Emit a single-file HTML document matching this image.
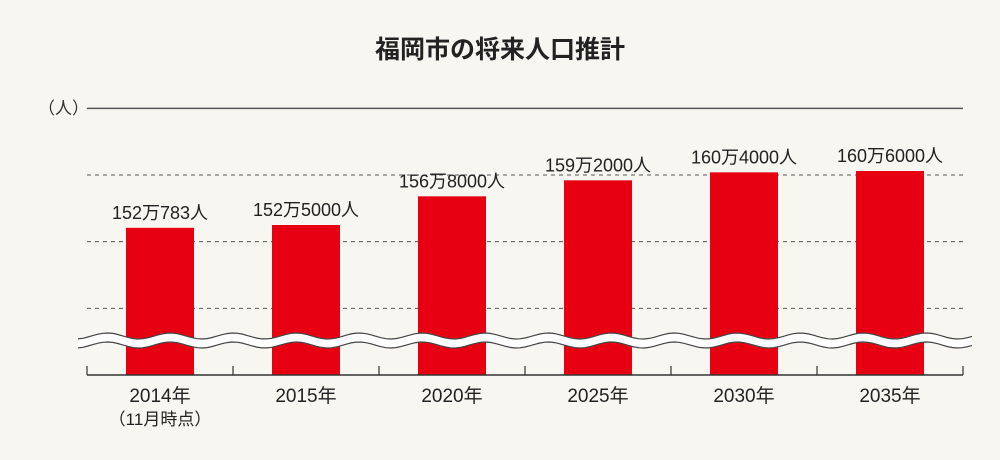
<!DOCTYPE html>
<html><head><meta charset="utf-8">
<style>
html,body{margin:0;padding:0;background:#f8f6f1;}
svg{display:block;font-family:"Liberation Sans","Noto Sans CJK JP",sans-serif;}
</style></head>
<body>
<svg id="chart" width="1000" height="460" viewBox="0 0 1000 460" xmlns="http://www.w3.org/2000/svg">
<rect width="1000" height="460" fill="#f8f6f1"/>
<text x="500" y="58" text-anchor="middle" font-size="25" font-weight="bold" fill="#222">福岡市の将来人口推計</text>
<text x="38" y="114" font-size="17" fill="#333">（人）</text>
<g id="grid"></g>
<g id="bars"></g>
<g id="wave"></g>
<g id="axis"></g>
</svg>
<script>
const categories = ["2014年","2015年","2020年","2025年","2030年","2035年"];
const values = [152.0783,152.5,156.8,159.2,160.4,160.6];
const valueLabels = ["152万783人","152万5000人","156万8000人","159万2000人","160万4000人","160万6000人"];
const gridValues = [170,160,150,140];
const NS="http://www.w3.org/2000/svg";
const svg=document.getElementById('chart');
function yScale(v){return 175-(v-160)*6.667;}
const x0=87,x1=963,step=(x1-x0)/categories.length,base=375;
function xCenter(i){return x0+step*(i+0.5);}
function mk(tag,attrs,parent){const e=document.createElementNS(NS,tag);for(const k in attrs)e.setAttribute(k,attrs[k]);parent.appendChild(e);return e;}
const grid=document.getElementById('grid');
gridValues.forEach((g,i)=>{
  const y=yScale(g);
  const l=mk('line',{x1:x0,x2:x1,y1:y,y2:y,stroke:i===0?'#555':'#555','stroke-width':i===0?1.5:1,'stroke-dasharray':i===0?'none':'4 4'},grid);
  
  
});
const bars=document.getElementById('bars');
values.forEach((v,i)=>{
  const cx=xCenter(i),y=yScale(v);
  const r=mk('rect',{x:cx-34,y:y,width:68,height:base-y,fill:'#e60012'},bars);
  
  
  const t=mk('text',{x:cx,y:y-9,'text-anchor':'middle','font-size':18,fill:'#222'},bars);
  t.textContent=valueLabels[i];
  
  
});
// wave break
const wave=document.getElementById('wave');
function curve(yc,rev){let pts=[];const N=180;for(let k=0;k<=N;k++){const x=78+k*(894/N);pts.push([x,yc+3*Math.sin((x-60)*2*Math.PI/63)]);}if(rev)pts.reverse();return pts;}
const up=curve(336,false),lo=curve(345,true);
const band=mk('path',{d:'M'+up.concat(lo).map(p=>p[0].toFixed(1)+','+p[1].toFixed(1)).join(' L')+' Z',fill:'#fff',stroke:'none'},wave);


[up,lo].forEach((c,j)=>{
  const p=mk('path',{d:'M'+c.map(p=>p[0].toFixed(1)+','+p[1].toFixed(1)).join(' L'),fill:'none',stroke:'#444','stroke-width':1.2},wave);
  
  
});
const axis=document.getElementById('axis');
const bl=mk('line',{x1:x0,x2:x1,y1:base,y2:base,stroke:'#333','stroke-width':1.5},axis);


for(let i=0;i<=categories.length;i++){
  const x=x0+step*i;
  const tk=mk('line',{x1:x,x2:x,y1:base-9,y2:base,stroke:'#333','stroke-width':1.2},axis);
  
  
}
categories.forEach((c,i)=>{
  const t=mk('text',{x:xCenter(i),y:402,'text-anchor':'middle','font-size':19,fill:'#222'},axis);
  t.textContent=c;
  
  
});
const note=mk('text',{x:xCenter(0),y:425,'text-anchor':'middle','font-size':17,fill:'#222'},axis);
note.textContent='（11月時点）';


</script>
</body></html>
